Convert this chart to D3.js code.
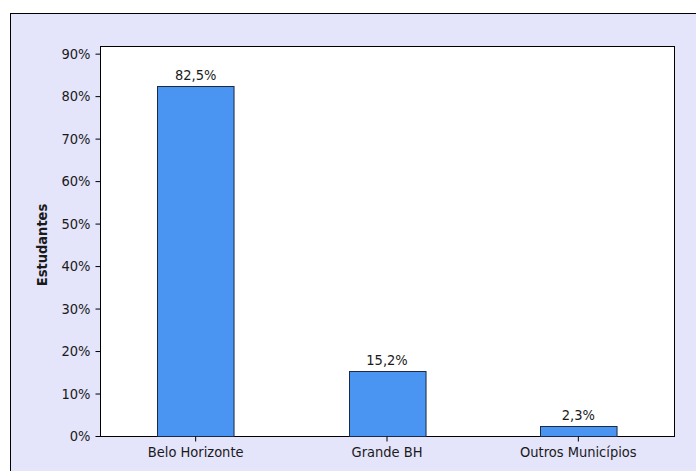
<!DOCTYPE html>
<html>
<head>
<meta charset="utf-8">
<script src="https://cdn.jsdelivr.net/npm/d3@7"></script>
<style>
  html, body { margin: 0; padding: 0; background: #ffffff; }
  svg text { font-family: "DejaVu Sans Condensed", "DejaVu Sans", sans-serif; fill: #1a1a1a; }
</style>
</head>
<body>
<div id="chart"></div>
<script>
// data
var categories = ["Belo Horizonte", "Grande BH", "Outros Municípios"];
var values = [82.5, 15.2, 2.3];
var valueLabels = ["82,5%", "15,2%", "2,3%"];
var yTicks = [0, 10, 20, 30, 40, 50, 60, 70, 80, 90];
var yTitle = "Estudantes";

var width = 696, height = 471,
    plot = {left: 100, top: 46, right: 674, bottom: 436},
    fontFam = "'DejaVu Sans Condensed', 'DejaVu Sans', sans-serif";

var svg = d3.select("#chart").append("svg")
    .attr("width", width)
    .attr("height", height);

// outer lavender frame (runs past the right and bottom edges)
svg.append("rect")
    .attr("x", 10.5).attr("y", 13.5)
    .attr("width", width + 10).attr("height", height + 10)
    .attr("fill", "#e4e4fa")
    .attr("stroke", "#000").attr("stroke-width", 1);

// plot area
svg.append("rect")
    .attr("x", plot.left + 0.5).attr("y", plot.top + 0.5)
    .attr("width", plot.right - plot.left).attr("height", plot.bottom - plot.top)
    .attr("fill", "#fff")
    .attr("stroke", "#000").attr("stroke-width", 1);

var x = d3.scaleBand()
    .domain(categories)
    .range([plot.left, plot.right])
    .padding(0);

var y = d3.scaleLinear()
    .domain([0, 91.8])
    .range([plot.bottom, plot.top]);

var barW = x.bandwidth() * 0.4;

//bars
svg.append("g")
  .selectAll("rect")
  .data(values)
  .enter()
  .append("rect")
    .attr("x", function(d, i){ return Math.round(x(categories[i]) + x.bandwidth()/2 - barW/2) + 0.5; })
    .attr("y", function(d){ return Math.round(y(d)) + 0.5; })
    .attr("width", barW)
    .attr("height", function(d){ return Math.round(y(0)) - Math.round(y(d)); })
    .attr("fill", "#4a94f2")
    .attr("stroke", "#1c2a44")
    .attr("stroke-width", 1);

// value labels
svg.append("g")
  .selectAll("text")
  .data(values)
  .enter()
  .append("text")
    .attr("x", function(d, i){ return x(categories[i]) + x.bandwidth()/2; })
    .attr("y", function(d){ return y(d) - 6; })
    .attr("text-anchor", "middle")
    .style("font-size", "14.5px")
    .text(function(d, i){ return valueLabels[i]; });

// y axis
var yAxis = d3.axisLeft(y)
    .tickValues(yTicks)
    .tickSize(5)
    .tickPadding(5)
    .tickFormat(function(d){ return d + "%"; });

var gy = svg.append("g")
    .attr("transform", "translate(" + (plot.left + 0.5) + ",0)")
    .call(yAxis);
gy.select(".domain").remove();
gy.selectAll("line").attr("stroke", "#000");
gy.selectAll("text").style("font-size", "14.5px").style("font-family", fontFam).attr("fill", "#1a1a1a");

// x axis
var xAxis = d3.axisBottom(x)
    .tickSize(5)
    .tickPadding(5);

var gx = svg.append("g")
    .attr("transform", "translate(0," + (plot.bottom + 0.5) + ")")
    .call(xAxis);
gx.select(".domain").remove();
gx.selectAll("line").attr("stroke", "#000");
gx.selectAll("text").style("font-size", "14.5px").style("font-family", fontFam).attr("fill", "#1a1a1a");

// y title
svg.append("text")
    .attr("transform", "translate(47," + ((plot.top + plot.bottom)/2 + 4) + ") rotate(-90)")
    .attr("text-anchor", "middle")
    .style("font-size", "14.5px")
    .style("font-weight", "bold")
    .text(yTitle);
</script>
</body>
</html>
